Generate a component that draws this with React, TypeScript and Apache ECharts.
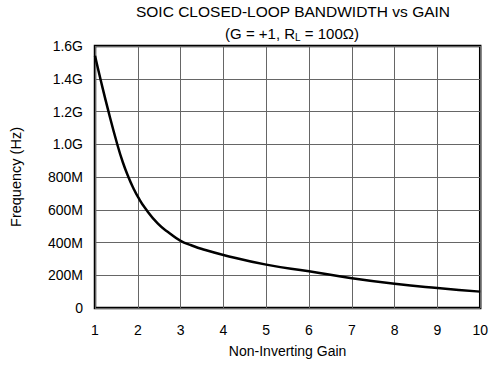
import React, { useEffect, useRef } from "react";
import * as echarts from "echarts";

const gains = [1, 1.13, 1.31, 1.52, 1.65, 1.78, 1.9, 2, 2.17, 2.47, 2.75, 3, 3.25, 3.5, 4, 5, 6, 7, 8, 9, 10];
const bandwidthMHz = [1540, 1395, 1205, 1000, 890, 800, 730, 680, 610, 515, 455, 410, 383, 360, 324, 265, 224, 182, 148, 122, 100];
const xTicks = [1, 2, 3, 4, 5, 6, 7, 8, 9, 10];
const yMax = 1600;
const yStep = 200;

const fmtY = (v: number) => {
  if (v === 0) return "0";
  if (v >= 1000) return (v / 1000).toFixed(1) + "G";
  return v + "M";
};

export default function App() {
  const ref = useRef<HTMLDivElement>(null);
  useEffect(() => {
    if (!ref.current) return;
    const chart = echarts.init(ref.current, undefined, { renderer: "svg" });
    const font = "Liberation Sans, Arial, Helvetica, sans-serif";
    chart.setOption({
      animation: false,
      backgroundColor: "#fff",
      title: [
        {
          text: "SOIC CLOSED-LOOP BANDWIDTH vs GAIN",
          left: 288,
          top: -2,
          textAlign: "center",
          textStyle: { fontFamily: font, fontSize: 15.5, fontWeight: "normal", color: "#000" },
        },
        {
          text: "(G = +1, R{sub|L} = 100Ω)",
          left: 287,
          top: 20,
          textAlign: "center",
          textStyle: {
            fontFamily: font,
            fontSize: 15,
            fontWeight: "normal",
            color: "#000",
            rich: {
              sub: { fontFamily: font, fontSize: 10, color: "#000", verticalAlign: "bottom", padding: [7, 0, 0, 0] },
            },
          },
        },
      ],
      grid: {
        left: 93,
        right: 9,
        top: 46,
        bottom: 58,
        show: true,
        borderColor: "#000",
        borderWidth: 2.5,
        backgroundColor: "transparent",
      },
      xAxis: {
        type: "value",
        min: 1,
        max: 10,
        interval: 1,
        name: "Non-Inverting Gain",
        nameLocation: "middle",
        nameGap: 36,
        nameTextStyle: { fontFamily: font, fontSize: 14, color: "#000" },
        axisLine: { show: false },
        axisTick: { show: false },
        axisLabel: {
          fontFamily: font,
          fontSize: 14,
          color: "#000",
          margin: 15,
          formatter: (v: number) => (xTicks.includes(v) ? String(v) : ""),
        },
        splitLine: { show: true, lineStyle: { color: "#666", width: 1 } },
      },
      yAxis: {
        type: "value",
        min: 0,
        max: yMax,
        interval: yStep,
        name: "Frequency (Hz)",
        nameLocation: "middle",
        nameGap: 72,
        nameRotate: 90,
        nameTextStyle: { fontFamily: font, fontSize: 14.5, color: "#000" },
        axisLine: { show: false },
        axisTick: { show: false },
        axisLabel: { fontFamily: font, fontSize: 14, color: "#000", margin: 12, formatter: fmtY },
        splitLine: { show: true, lineStyle: { color: "#666", width: 1 } },
      },
      series: [
        {
          type: "line",
          data: gains.map((g, i) => [g, bandwidthMHz[i]]),
          smooth: 0.5,
          showSymbol: false,
          lineStyle: { color: "#000", width: 2.5 },
        },
      ],
    });
    return () => chart.dispose();
  }, []);
  return (
    <div
      ref={ref}
      style={{ position: "fixed", left: 0, top: 0, width: 491, height: 366, background: "#fff" }}
    />
  );
}
